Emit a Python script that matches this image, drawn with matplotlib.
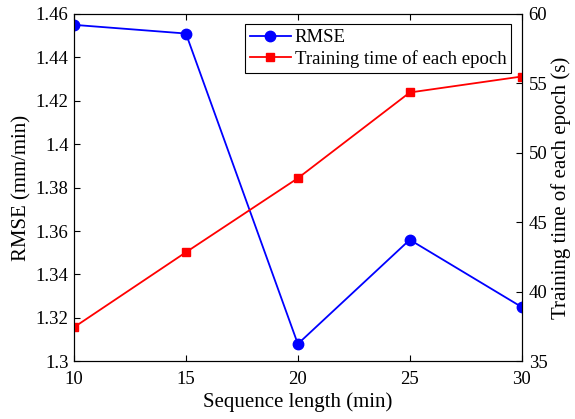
import matplotlib
matplotlib.use('Agg')
import matplotlib.pyplot as plt

# data
seq_len = [10, 15, 20, 25, 30]
rmse = [1.455, 1.451, 1.308, 1.356, 1.325]
train_time = [37.45, 42.85, 48.18, 54.35, 55.5]

plt.rcParams['font.family'] = ['Liberation Serif', 'DejaVu Serif']
plt.rcParams['font.size'] = 13.5

fig = plt.figure(figsize=(5.75, 4.19), dpi=100)
ax = fig.add_axes([0.1287, 0.1377, 0.7786, 0.8289])
ax2 = ax.twinx()

l1, = ax.plot(seq_len, rmse, color='blue', marker='o', markersize=7.5, linewidth=1.3, label='RMSE')
l2, = ax2.plot(seq_len, train_time, color='red', marker='s', markersize=6, linewidth=1.3,
               label='Training time of each epoch')

ax.set_xlim(10, 30)
ax.set_ylim(1.3, 1.46)
ax.set_xticks([10, 15, 20, 25, 30])
ax.set_yticks([1.3, 1.32, 1.34, 1.36, 1.38, 1.4, 1.42, 1.44, 1.46])
ax.set_yticklabels(['1.3', '1.32', '1.34', '1.36', '1.38', '1.4', '1.42', '1.44', '1.46'])
ax2.set_ylim(35, 60)
ax2.set_yticks([35, 40, 45, 50, 55, 60])

ax.tick_params(direction='in', top=True, length=4, width=0.8, labelsize=13.5)
ax.tick_params(axis='x', pad=7)
ax.tick_params(axis='y', right=False, pad=4)
ax2.tick_params(direction='in', length=4, width=0.8, labelsize=13.5, pad=5)
for a in (ax, ax2):
    for s in a.spines.values():
        s.set_linewidth(0.8)

ax.set_xlabel('Sequence length (min)', fontsize=15, labelpad=3)
ax.set_ylabel('RMSE (mm/min)', fontsize=15, labelpad=3)
ax2.set_ylabel('Training time of each epoch (s)', fontsize=15, labelpad=3)

leg = ax.legend(handles=[l1, l2], loc='upper right', bbox_to_anchor=(0.976, 0.970),
                fancybox=False, edgecolor='black', framealpha=1, fontsize=13.5,
                borderpad=0.25, labelspacing=0.2, handlelength=2.2, handletextpad=0.2,
                borderaxespad=0)
leg.get_frame().set_linewidth(0.8)

fig.savefig('out.png', dpi=100)
